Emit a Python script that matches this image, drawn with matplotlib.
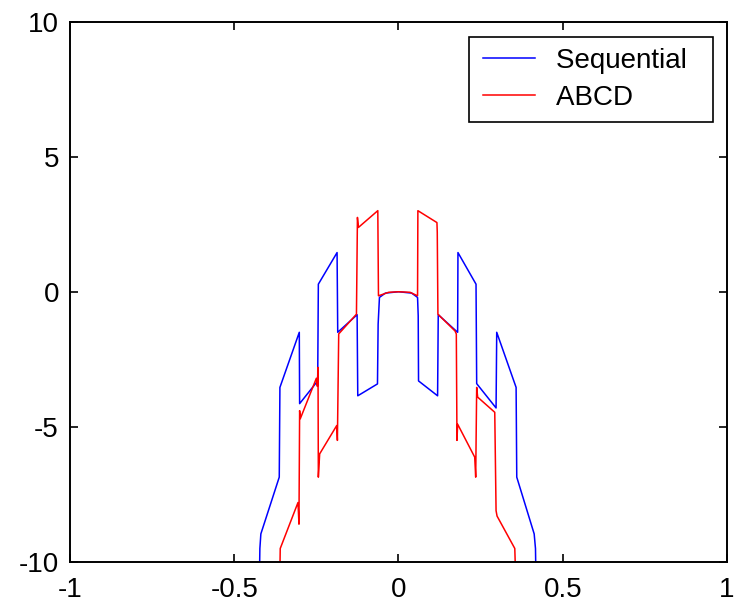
import matplotlib
matplotlib.use("Agg")
import matplotlib.pyplot as plt
from matplotlib.legend_handler import HandlerLine2D

plt.rcParams['font.family'] = ['Liberation Sans', 'DejaVu Sans']

# Sequential (blue) curve
seq_x = [-0.423, -0.422, -0.419, -0.363, -0.361, -0.302, -0.301, -0.246, -0.244,
         -0.187, -0.185, -0.126, -0.124, -0.064, -0.062, -0.058, -0.04, 0.0,
         0.04, 0.058, 0.060, 0.061, 0.119, 0.121, 0.180, 0.181, 0.236, 0.238,
         0.297, 0.299, 0.358, 0.360, 0.413, 0.417, 0.418]
seq_y = [-10.3, -9.5, -8.96, -6.86, -3.54, -1.50, -4.14, -3.3, 0.28,
         1.45, -1.50, -0.85, -3.85, -3.41, -1.2, -0.21, -0.05, 0.0,
         -0.05, -0.21, -0.89, -3.30, -3.85, -0.85, -1.50, 1.45, 0.28, -3.4,
         -4.3, -1.50, -3.54, -6.86, -8.96, -9.5, -10.3]

# ABCD (red) curve
abcd_x = [-0.361, -0.360, -0.306, -0.303, -0.301, -0.299, -0.250, -0.247, -0.245,
          -0.244, -0.240, -0.188, -0.186, -0.182, -0.128, -0.125, -0.122, -0.063,
          -0.061, -0.03, 0.0, 0.035, 0.058, 0.059, 0.117, 0.118, 0.120, 0.172,
          0.176, 0.178, 0.180, 0.232, 0.235, 0.238, 0.241, 0.293, 0.297, 0.300,
          0.354, 0.356]
abcd_y = [-10.3, -9.5, -7.8, -8.6, -4.4, -4.7, -3.2, -3.5, -2.8,
          -6.86, -6.0, -4.95, -5.5, -1.56, -0.83, 2.75, 2.38, 3.0,
          -0.15, -0.02, 0.0, -0.02, -0.15, 3.0, 2.56, 2.2, -0.83, -1.45,
          -1.56, -5.5, -4.9, -6.12, -6.86, -3.54, -3.9, -4.46, -8.1, -8.3,
          -9.5, -10.3]

series_labels = ["Sequential", "ABCD"]
x_ticks = [-1, -0.5, 0, 0.5, 1]
x_tick_labels = ["-1", "-0.5", "0", "0.5", "1"]
y_ticks = [-10, -5, 0, 5, 10]
y_tick_labels = ["-10", "-5", "0", "5", "10"]

fig = plt.figure(figsize=(7.34, 6.04), dpi=100)
ax = fig.add_axes([70/734, 1-562/604, 657/734, 540.5/604])

ax.plot(seq_x, seq_y, color=(0, 0, 1), lw=1.1, label=series_labels[0])
ax.plot(abcd_x, abcd_y, color=(1, 0, 0), lw=1.1, label=series_labels[1])

ax.set_xlim(-1, 1)
ax.set_ylim(-10, 10)
ax.set_xticks(x_ticks)
ax.set_xticklabels(x_tick_labels)
ax.set_yticks(y_ticks)
ax.set_yticklabels(y_tick_labels)
ax.tick_params(direction='in', length=6, width=1.2, labelsize=20,
               top=True, right=True, colors='black')
ax.tick_params(axis='y', pad=8)
ax.tick_params(axis='x', pad=11)
for s in ax.spines.values():
    s.set_linewidth(1.4)
    s.set_color('black')

handles, labels = ax.get_legend_handles_labels()
labels = [l + "  " for l in labels]
leg = ax.legend(handles, labels, loc='upper right', bbox_to_anchor=(0.9787, 0.972),
                borderaxespad=0, fancybox=False, framealpha=1,
                edgecolor='black', fontsize=20, handlelength=2.14,
                handletextpad=0.59, borderpad=0.4, labelspacing=0.4,
                handler_map={h: HandlerLine2D(numpoints=2, marker_pad=0.133) for h in handles})
leg.get_frame().set_linewidth(1.2)

fig.savefig("out.png", dpi=100)
